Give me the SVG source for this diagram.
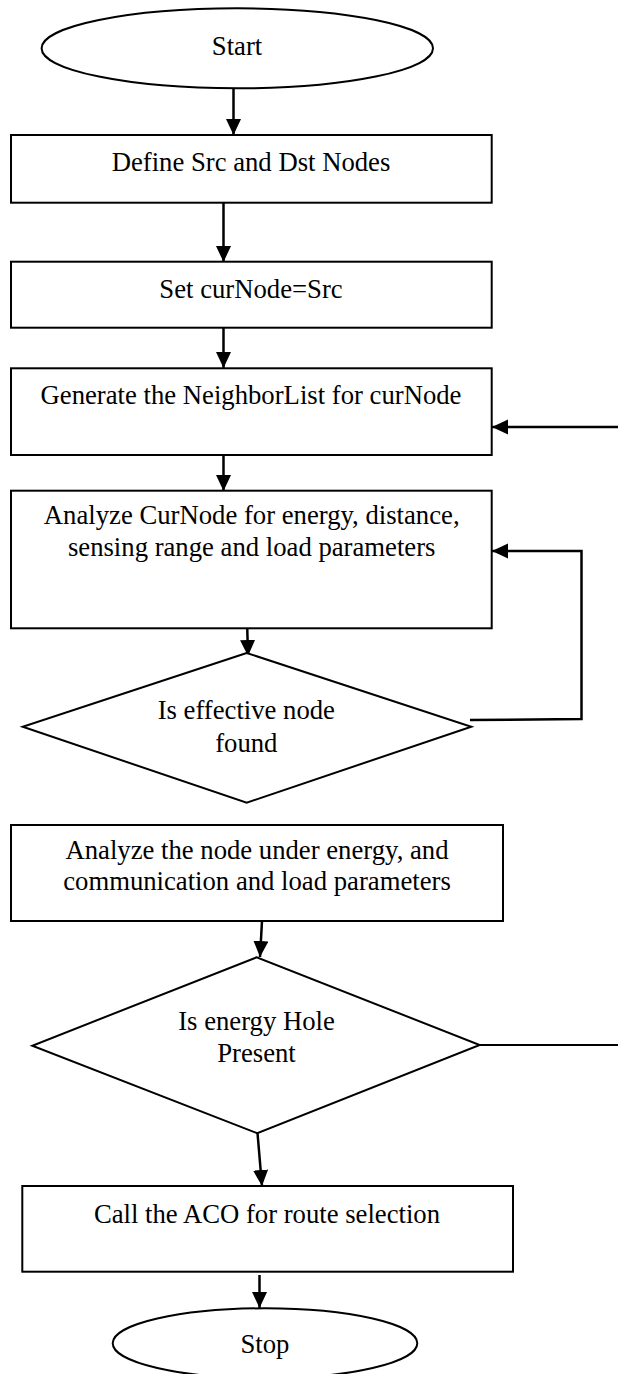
<svg xmlns="http://www.w3.org/2000/svg" width="618" height="1374" viewBox="0 0 618 1374">
  <style>
    .shape { fill: #ffffff; stroke: #000000; stroke-width: 2; }
    .conn { fill: none; stroke: #000000; stroke-width: 2.5; }
    .thin { fill: none; stroke: #000000; stroke-width: 2; }
    text { font-family: "Liberation Serif", "Times New Roman", serif; font-size: 26.7px; fill: #000000; text-anchor: middle; }
  </style>
  <defs>
    <marker id="arrow" markerUnits="userSpaceOnUse" markerWidth="18" markerHeight="16" refX="16" refY="7.5" orient="auto">
      <path d="M0,0 L16,7.5 L0,15 Z" fill="#000000"/>
    </marker>
  </defs>
  <rect width="618" height="1374" fill="#ffffff"/>

  <g id="connectors">
    <line class="conn" x1="233.5" y1="88" x2="233.5" y2="135" marker-end="url(#arrow)"/>
    <line class="conn" x1="223.5" y1="203" x2="223.5" y2="262" marker-end="url(#arrow)"/>
    <line class="conn" x1="223.5" y1="328" x2="223.5" y2="368" marker-end="url(#arrow)"/>
    <line class="conn" x1="618" y1="427" x2="492" y2="427" marker-end="url(#arrow)"/>
    <line class="conn" x1="223.5" y1="437" x2="223.5" y2="491" marker-end="url(#arrow)"/>
    <polyline class="conn" points="470,720 581.5,719 581.5,551 492,551" marker-end="url(#arrow)"/>
    <line class="conn" x1="246.5" y1="601" x2="248" y2="656" marker-end="url(#arrow)"/>
    <line class="conn" x1="262" y1="921" x2="260" y2="957" marker-end="url(#arrow)"/>
    <line class="thin" x1="480" y1="1045" x2="618" y2="1045"/>
    <line class="conn" x1="257.5" y1="1133" x2="262" y2="1186" marker-end="url(#arrow)"/>
    <line class="conn" x1="259.5" y1="1275" x2="259.5" y2="1308" marker-end="url(#arrow)"/>
  </g>

  <g id="start">
    <ellipse class="shape" cx="237.3" cy="48.3" rx="195.7" ry="40"/>
    <text x="237" y="55">Start</text>
  </g>
  <g id="define">
    <rect class="shape" x="11" y="135" width="480.7" height="67.7"/>
    <text x="251" y="171">Define Src and Dst Nodes</text>
  </g>
  <g id="setcur">
    <rect class="shape" x="11" y="261.7" width="480.7" height="66"/>
    <text x="251" y="298">Set curNode=Src</text>
  </g>
  <g id="generate">
    <rect class="shape" x="11" y="368.3" width="480.7" height="86.7"/>
    <text x="251" y="403.5">Generate the NeighborList for curNode</text>
  </g>
  <g id="analyze1">
    <rect class="shape" x="11" y="490.7" width="480.7" height="137.6"/>
    <text x="251.7" y="523.5">Analyze CurNode for energy, distance,</text>
    <text x="251.7" y="556">sensing range and load parameters</text>
  </g>
  <g id="decision1">
    <polygon class="shape" points="246.7,653 22.7,726.7 246.7,802.7 471.3,726.7"/>
    <text x="246.3" y="718.5">Is effective node</text>
    <text x="246.3" y="751.7">found</text>
  </g>
  <g id="analyze2">
    <rect class="shape" x="11" y="825" width="492" height="96"/>
    <text x="257" y="858.5">Analyze the node under energy, and</text>
    <text x="257" y="890">communication and load parameters</text>
  </g>
  <g id="decision2">
    <polygon class="shape" points="256.7,957.3 32.3,1045.7 257.3,1133.3 479.7,1045"/>
    <text x="256.5" y="1030">Is energy Hole</text>
    <text x="256.5" y="1061.7">Present</text>
  </g>
  <g id="aco">
    <rect class="shape" x="22.3" y="1186" width="490.7" height="85.7"/>
    <text x="267" y="1223">Call the ACO for route selection</text>
  </g>
  <g id="stop">
    <ellipse class="shape" cx="265" cy="1343.3" rx="152.3" ry="35"/>
    <text x="265" y="1353">Stop</text>
  </g>
</svg>
